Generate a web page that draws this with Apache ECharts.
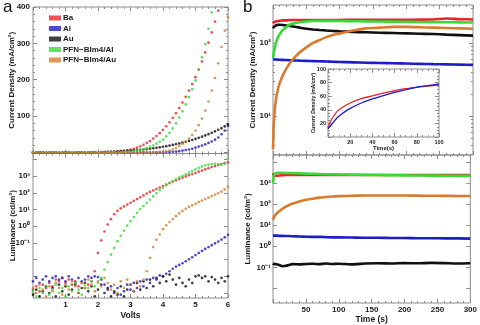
<!DOCTYPE html>
<html><head><meta charset="utf-8">
<script src="https://cdn.jsdelivr.net/npm/echarts@6/dist/echarts.min.js"></script>
<style>html,body{margin:0;padding:0;background:#fff}#c{width:480px;height:325px}</style>
</head><body><div id="c"></div>
<script>
// ---------- DATA ----------
const names = ['Ba','Al','Au','PFN\u2212BIm4/Al','PFN\u2212BIm4/Au'];
const colors = ['#e8252b','#1c1cc9','#101010','#33dd33','#d97a2c'];

const volts = [0,0.1,0.2,0.3,0.4,0.5,0.6,0.7,0.8,0.9,1,1.1,1.2,1.3,1.4,1.5,1.6,1.7,1.8,1.9,2,2.1,2.2,2.3,2.4,2.5,2.6,2.7,2.8,2.9,3,3.1,3.2,3.3,3.4,3.5,3.6,3.7,3.8,3.9,4,4.1,4.2,4.3,4.4,4.5,4.6,4.7,4.8,4.9,5,5.1,5.2,5.3,5.4,5.5,5.6,5.7,5.8,5.9,6];

// current density (mA/cm2) vs volts
const jBa = [0,0,0,0,0,0,0,0,0,0,0,0,0,0,0,0,0,0,0,0,
  0.2,0.3,0.5,0.7,1,1.5,2,3,4,5.5,8,10,13,17,21,26,31,38,45,53,62,72,83,95,108,122,137,153,170,188,207,228,250,275,302,330,360,390,null,null,null];
const jAl = [0,0,0,0,0,0,0,0,0,0,0,0,0,0,0,0,0,0,0,0,0,0,0,0,0,0,0,0,0,0,0,0,0,0,0,0,0,0,0,0,
  0.5,0.8,1.2,1.8,2.5,3.5,5,6.5,8,10,13,16,19,22,26,30,35,41,50,60,73];
const jAu = [0,0,0,0,0,0,0,0,0,0,0,0,0,0,0,
  0.2,0.3,0.4,0.5,0.7,0.9,1.1,1.4,1.7,2.0,2.4,2.8,3.3,3.8,4.4,5.0,5.7,6.4,7.2,8.1,9.1,10.2,11.4,12.7,14.1,15.6,17.2,18.9,20.7,22.6,24.6,26.8,29.1,31.6,34.2,37,40,43.2,46.6,50.2,54,58,62.3,66.8,71.6,77];
const jPAl = [0,0,0,0,0,0,0,0,0,0,0,0,0,0,0,0,0,0,0,0,0,0,0,0,0,0,
  0.3,0.5,1,1.5,2.5,3.5,5,7,9,12,15,19,24,29,35,44,54,66,80,96,113,132,152,174,198,228,262,298,340,385,null,null,null,null,null];
const jPAu = [0,0,0,0,0,0,0,0,0,0,0,0,0,0,0,0,0,0,0,0,0,0,0,0,0,0,0,0,0,0,0,0,0,0,0,0,
  0.3,0.6,0.9,1.2,1.5,3,5,8,12,17,23,30,38,48,60,75,93,115,140,170,205,245,290,335,372];

// log10 luminance (cd/m2) vs volts
const lBa = [-3.8,-3.6,-3.9,-3.5,-3.7,-3.4,-3.6,-3.2,-3.3,-3.1,-3.4,-3.2,-3.5,-3.3,-3.6,-3.4,-3.7,-3.5,-3.3,
  -2.7,-1.6,-0.85,-0.32,0.1,0.42,0.72,0.92,1.06,1.18,1.29,1.4,1.51,1.62,1.73,1.84,1.95,2.05,2.14,2.22,2.31,2.4,2.49,2.58,2.66,2.74,2.82,2.9,2.98,3.05,3.12,3.19,3.26,3.33,3.4,3.47,3.54,3.6,3.66,3.72,3.77,3.82];
const lAl = [-3.3,-3.1,-3.4,-3.2,-3.0,-3.3,-3.1,-3.0,-3.2,-3.1,-3.3,-3.0,-3.2,-3.4,-3.1,-3.3,-3.2,-3.0,-3.1,-3.0,
  -3.05,-3.2,-3.5,-3.8,-3.6,-4.0,-3.7,-4.1,-3.9,-3.5,-3.8,-3.4,-3.7,-3.3,-3.6,-3.2,-3.4,-3.1,-3.2,-2.95,-3.0,
  -2.85,-2.7,-2.55,-2.42,-2.32,-2.22,-2.1,-1.98,-1.86,-1.73,-1.6,-1.48,-1.36,-1.25,-1.14,-1.03,-0.92,-0.8,-0.67,-0.52];
const lAu = [-4.1,-3.8,-4.2,-3.9,-3.6,-4.0,-3.7,-4.2,-3.5,-3.9,-3.6,-4.1,-3.8,-3.5,-4.0,-3.7,-3.4,-3.9,-3.6,-4.2,-3.8,-3.5,-4.0,-3.7,-4.2,-3.9,-4.1,-3.6,-4.2,-3.8,
  -3.5,-3.9,-3.4,-3.8,-3.3,-3.7,-3.2,-3.6,-3.1,-3.4,
  -3.0,-3.3,-2.9,-3.2,-3.5,-3.1,-3.4,-3.6,-3.2,-3.4,-3.0,-2.95,-3.1,-3.0,-3.3,-3.05,-3.2,-3.4,-3.1,-3.3,-3.0];
const lPAl = [-3.9,-4.2,-3.7,-4.0,-3.6,-4.1,-3.8,-3.5,-4.0,-3.7,-4.2,-3.6,-3.9,-3.4,-3.8,-4.1,-3.5,-3.7,-3.3,-3.6,-3.4,
  -3.1,-2.6,-2.15,-1.7,-1.3,-0.9,-0.58,-0.27,0.03,0.3,0.55,0.8,1.02,1.2,1.4,1.58,1.78,1.97,2.15,2.3,2.45,2.58,2.7,2.82,2.92,3.0,3.1,3.2,3.3,3.4,3.49,3.57,3.64,3.69,3.72,3.73,3.72,3.69,3.76,4.05];
const lPAu = [-3.7,-4.0,-3.5,-3.8,-4.2,-3.6,-3.9,-3.4,-3.7,-4.1,-3.5,-3.8,-3.3,-3.6,-4.0,-3.4,-3.7,-3.2,-3.5,-3.9,-3.3,-3.6,-3.1,-3.4,-3.8,-3.5,-4.0,-3.3,-3.7,-3.2,-3.5,-3.9,-3.3,-3.6,-3.2,
  -2.7,-1.9,-1.25,-0.82,-0.5,-0.18,0.05,0.25,0.43,0.6,0.76,0.91,1.04,1.15,1.25,1.34,1.44,1.53,1.62,1.71,1.8,1.88,1.97,2.07,2.2,2.36];

// time traces (s)
const times = [0,1,2,3,5,7,10,15,20,25,30,40,50,60,70,80,90,100,120,140,160,180,200,220,240,260,280,300];
// log10 current density vs time
const tjBa = [2.27,2.28,2.285,2.29,2.295,2.3,2.305,2.31,2.31,2.315,2.315,2.315,2.315,2.315,2.315,2.315,2.315,2.315,2.318,2.318,2.318,2.318,2.318,2.32,2.322,2.335,2.326,2.322];
const tjAl = [1.775,1.775,1.775,1.774,1.773,1.772,1.77,1.768,1.766,1.764,1.762,1.758,1.755,1.752,1.749,1.746,1.743,1.74,1.735,1.73,1.726,1.722,1.718,1.714,1.71,1.707,1.704,1.7];
const tjAu = [2.2,2.215,2.225,2.232,2.242,2.248,2.25,2.247,2.24,2.232,2.225,2.21,2.195,2.185,2.177,2.17,2.165,2.16,2.152,2.146,2.14,2.136,2.132,2.127,2.122,2.115,2.108,2.1];
const tjPAl = [1.79,1.85,1.9,1.95,2.02,2.07,2.12,2.18,2.22,2.25,2.265,2.285,2.295,2.3,2.303,2.303,2.302,2.3,2.298,2.296,2.294,2.292,2.29,2.288,2.286,2.284,2.282,2.28];
const tjPAu = [0.55,0.85,1.0,1.12,1.26,1.35,1.45,1.56,1.65,1.72,1.78,1.87,1.94,2.0,2.04,2.08,2.11,2.13,2.17,2.2,2.21,2.22,2.22,2.215,2.21,2.205,2.2,2.195];
// log10 luminance vs time
const tlBa = [3.45,3.38,3.34,3.33,3.33,3.34,3.35,3.36,3.37,3.37,3.37,3.37,3.37,3.37,3.37,3.37,3.37,3.37,3.37,3.37,3.37,3.37,3.37,3.37,3.37,3.37,3.37,3.37];
const tlAl = [0.5,0.5,0.5,0.5,0.5,0.5,0.49,0.49,0.48,0.48,0.47,0.46,0.45,0.44,0.44,0.43,0.42,0.42,0.41,0.4,0.4,0.39,0.39,0.38,0.38,0.37,0.37,0.36];
const tlAu = [-0.82,-0.85,-0.83,-0.86,-0.84,-0.87,-0.9,-0.95,-0.93,-0.88,-0.85,-0.86,-0.84,-0.83,-0.85,-0.82,-0.84,-0.83,-0.86,-0.82,-0.81,-0.82,-0.8,-0.81,-0.79,-0.8,-0.82,-0.81];
const tlPAl = [3.0,3.25,3.36,3.42,3.46,3.48,3.48,3.48,3.47,3.47,3.46,3.45,3.44,3.43,3.42,3.41,3.41,3.4,3.39,3.38,3.37,3.36,3.355,3.35,3.345,3.34,3.335,3.33];
const tlPAu = [1.25,1.33,1.4,1.45,1.53,1.6,1.67,1.79,1.88,1.96,2.02,2.12,2.2,2.25,2.3,2.33,2.355,2.37,2.39,2.4,2.405,2.405,2.4,2.395,2.39,2.385,2.38,2.375];
// inset (first 100 s, linear mA/cm2)
const insetTimes = [0,1,2,4,6,8,10,15,20,30,40,50,60,70,80,90,100];
const insetBa = [13,18,22,28,33,37,40,45.5,50,56.5,60.5,64.5,68,71,73,75,76.5];
const insetAl = [12,14,16,20,24,28,31,37,42,50,56,61,65.5,69.5,73.5,75.5,78];

// tick labels
const voltLabels = [1,2,3,4,5,6];
const jLabels = [100,200,300,400];
const lumLabels = [-1,0,1,2,3];
const jtLabels = [1,2];
const timeLabels = [50,100,150,200,250,300];
const insetLabels = [20,40,60,80,100];
const powerText = {'-1': '10\u207B\u00B9', '0': '10\u2070', '1': '10\u00B9', '2': '10\u00B2', '3': '10\u00B3'};

// ---------- STYLE / LAYOUT ----------
const FONT = 'Liberation Sans';
const txt = '#1a1a1a';
const frameColor = '#8c8c8c';

function range(a, b, s) { const r = []; for (let v = a; v <= b + 1e-9; v += s) r.push(+v.toFixed(4)); return r; }
function logMinor(lo, hi) { const r = []; for (let d = Math.floor(lo); d <= Math.ceil(hi); d++) for (let m = 2; m <= 9; m++) { const v = d + Math.log10(m); if (v >= lo && v <= hi) r.push(v); } return r; }
const supFmt = v => powerText[String(Math.round(v))];

const xAxes = [], yAxes = [];
function addAxes(list, dim, gi, min, max, majors, minors, labelVals, fmt, fs, margin, name, nameGap, nameFs) {
  const pos = dim === 'x' ? ['bottom', 'top'] : ['left', 'right'];
  const mainIdx = list.length;
  pos.forEach((p, k) => {
    const ax = {type: 'value', gridIndex: gi, position: p, min, max, offset: 0,
      axisLine: {show: false, onZero: false}, splitLine: {show: false},
      axisTick: {show: true, inside: true, length: 4, customValues: majors, lineStyle: {color: frameColor, width: 1}},
      axisLabel: {show: false}, name: ''};
    if (k === 0) {
      if (labelVals) ax.axisLabel = {show: true, customValues: labelVals, formatter: fmt, margin, color: txt,
        fontSize: fs, fontFamily: FONT, fontWeight: 'bold'};
      if (name) {
        ax.name = name; ax.nameLocation = 'middle'; ax.nameGap = nameGap; ax.nameMoveOverlap = false;
        ax.nameTextStyle = {fontSize: nameFs, fontFamily: FONT, fontWeight: 'bold', color: txt};
        if (dim === 'y') ax.nameRotate = 90;
      }
    }
    list.push(ax);
    if (minors) list.push({type: 'value', gridIndex: gi, position: p, min, max, offset: 0,
      axisLine: {show: false, onZero: false}, splitLine: {show: false},
      axisTick: {show: true, inside: true, length: 2, customValues: minors, lineStyle: {color: frameColor, width: 1}},
      axisLabel: {show: false}});
  });
  return mainIdx;
}

const grids = [
  {left: 33, top: 7, width: 195, height: 146.5},
  {left: 33, top: 153.5, width: 195, height: 144.5},
  {left: 273, top: 5, width: 200, height: 150},
  {left: 273, top: 155, width: 200, height: 149},
  {left: 328, top: 69, width: 111, height: 68, backgroundColor: '#fff'}
].map(g => Object.assign({show: true, borderColor: frameColor, borderWidth: 1, backgroundColor: 'transparent'}, g));

const ax0x = addAxes(xAxes, 'x', 0, 0, 6, range(0, 6, 1), range(0, 6, 0.2), null);
const ax0y = addAxes(yAxes, 'y', 0, -3, 400, range(0, 400, 100), range(0, 400, 20), jLabels, null, 8, 3, 'Current Density (mA/cm\u00b2)', 17, 8);
const ax1x = addAxes(xAxes, 'x', 1, 0, 6, range(0, 6, 1), range(0, 6, 0.2), voltLabels, null, 8, 3, 'Volts', 13, 8.5);
const ax1y = addAxes(yAxes, 'y', 1, -4.3, 4.35, range(-4, 4, 1), null, lumLabels, supFmt, 8, 3, 'Luminance (cd/m\u00b2)', 16, 8);
const ax2x = addAxes(xAxes, 'x', 2, 0, 300, range(0, 300, 50), range(0, 300, 10), null);
const ax2y = addAxes(yAxes, 'y', 2, 0.466, 2.52, [1, 2], logMinor(0.466, 2.52), jtLabels, supFmt, 8, 2, 'Current Density (mA/cm\u00b2)', 16, 8);
const ax3x = addAxes(xAxes, 'x', 3, 0, 300, range(0, 300, 50), range(0, 300, 10), timeLabels, null, 8, 3, 'Time (s)', 12, 8.5);
const ax3y = addAxes(yAxes, 'y', 3, -2.69, 4.32, range(-2, 4, 1), null, lumLabels, supFmt, 8, 2, 'Luminance (cd/m\u00b2)', 21, 8);
const ax4x = addAxes(xAxes, 'x', 4, 0, 100, range(0, 100, 20), range(0, 100, 5), insetLabels, null, 5.5, 2, 'Time(s)', 8, 6);
const ax4y = addAxes(yAxes, 'y', 4, 0, 100, range(0, 100, 20), range(0, 100, 5), insetLabels, null, 5.5, 2, 'Current Density (mA/cm\u00b2)', 12, 5);

const series = [];
function scatter(xi, yi, xs, ys, i) {
  const data = [];
  xs.forEach((x, k) => { if (ys[k] !== null && ys[k] !== undefined) data.push([x, ys[k]]); });
  series.push({type: 'scatter', name: names[i], xAxisIndex: xi, yAxisIndex: yi, data, symbol: 'circle', symbolSize: 2.7,
    itemStyle: {color: colors[i]}, silent: true, clip: true});
}
function line(xi, yi, xs, ys, i, w) {
  series.push({type: 'line', name: names[i], xAxisIndex: xi, yAxisIndex: yi, data: xs.map((x, k) => [x, ys[k]]),
    showSymbol: false, symbol: 'none', smooth: 0.2, lineStyle: {color: colors[i], width: w}, itemStyle: {color: colors[i]}, silent: true, clip: true});
}
[jBa, jAl, jAu, jPAl, jPAu].forEach((a, i) => scatter(ax0x, ax0y, volts, a, i));
[lBa, lAl, lAu, lPAl, lPAu].forEach((a, i) => scatter(ax1x, ax1y, volts, a, i));
[tjBa, tjAl, tjAu, tjPAl, tjPAu].forEach((a, i) => line(ax2x, ax2y, times, a, i, 2.6));
[tlBa, tlAl, tlAu, tlPAl, tlPAu].forEach((a, i) => line(ax3x, ax3y, times, a, i, 2.6));
line(ax4x, ax4y, insetTimes, insetBa, 0, 1.3);
line(ax4x, ax4y, insetTimes, insetAl, 1, 1.3);

const chart = echarts.init(document.getElementById('c'), null, {renderer: 'canvas'});
chart.setOption({
  animation: false,
  backgroundColor: '#fff',
  grid: grids,
  xAxis: xAxes,
  yAxis: yAxes,
  legend: {left: 44, top: 9, orient: 'vertical', icon: 'rect', itemWidth: 12, itemHeight: 5, itemGap: 2.5,
    selectedMode: false, data: names,
    textStyle: {fontSize: 8, fontWeight: 'bold', fontFamily: FONT, color: txt, padding: [0, 0, 0, -3]}},
  graphic: [
    {type: 'text', left: 3, top: -1, style: {text: 'a', fontSize: 17, fontFamily: FONT, fill: '#111'}},
    {type: 'text', left: 243, top: -1, style: {text: 'b', fontSize: 17, fontFamily: FONT, fill: '#111'}}
  ],
  series
});
</script></body></html>
